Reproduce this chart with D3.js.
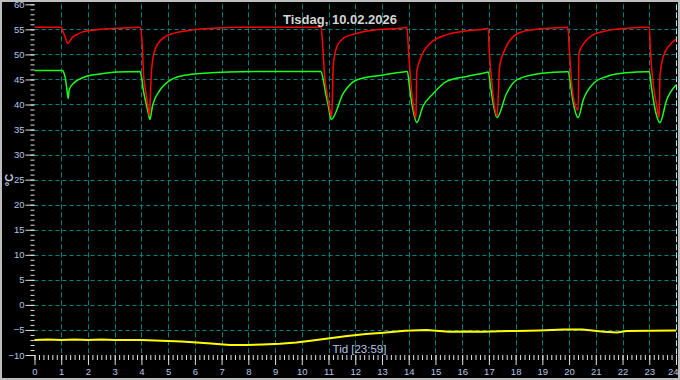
<!DOCTYPE html>
<html>
<head>
<meta charset="utf-8">
<script src="https://cdn.jsdelivr.net/npm/d3@7"></script>
<style>
    body { margin: 0; background: #000; }
    svg { display: block; }
</style>
</head>
<body>
<svg></svg>
<script>
// tid i timmar, temperatur i °C
const redSeries = [
    [0, 55.4], [1.0, 55.4], [1.05, 54.8], [1.15, 53.4], [1.25, 52.2], [1.4, 53.3], [1.6, 54.0],
    [1.8, 54.5], [2.45, 55.0], [3.1, 55.2], [3.95, 55.4],
    [4.02, 53.0], [4.08, 46.0], [4.15, 43.0], [4.25, 39.5], [4.3, 37.8], [4.33, 41.0], [4.36, 45.0],
    [4.42, 48.9], [4.55, 51.5], [4.8, 53.2], [5.2, 54.2], [5.7, 54.7], [6.3, 55.1], [7.0, 55.3],
    [7.7, 55.4], [10.72, 55.4],
    [10.78, 52.0], [10.85, 46.0], [10.95, 42.0], [11.05, 39.0], [11.12, 37.6], [11.18, 48.0],
    [11.31, 51.5], [11.55, 53.2], [12.05, 54.2], [12.8, 54.9], [13.67, 55.2], [13.93, 55.4],
    [14.0, 50.0], [14.07, 45.0], [14.17, 40.0], [14.27, 37.2], [14.3, 46.5], [14.42, 48.9],
    [14.8, 52.2], [15.4, 53.9], [16.2, 54.7], [16.9, 55.1], [16.97, 55.2],
    [17.02, 50.0], [17.1, 45.0], [17.2, 40.0], [17.31, 37.7], [17.4, 47.5], [17.6, 51.0],
    [17.9, 53.5], [18.3, 54.6], [18.9, 55.1], [19.5, 55.3], [19.95, 55.4],
    [20.02, 50.0], [20.1, 44.0], [20.22, 40.0], [20.34, 38.9], [20.37, 50.2], [20.55, 52.2],
    [20.9, 53.9], [21.4, 54.7], [22.15, 55.2], [22.9, 55.4], [23.0, 55.4],
    [23.05, 50.0], [23.15, 44.0], [23.27, 40.0], [23.37, 37.4], [23.4, 45.6], [23.52, 49.5],
    [23.77, 51.9], [24.0, 53.0]
];

const greenSeries = [
    [0, 46.8], [1.05, 46.8], [1.1, 46.3], [1.14, 45.6], [1.2, 43.6], [1.26, 41.2], [1.3, 43.0],
    [1.45, 44.2], [1.83, 45.4], [2.45, 46.1], [3.08, 46.5], [3.95, 46.6],
    [4.0, 45.6], [4.07, 42.9], [4.17, 40.3], [4.26, 38.2], [4.32, 37.0], [4.41, 39.6], [4.7, 42.9],
    [5.1, 44.9], [5.7, 45.9], [6.8, 46.4], [7.7, 46.55], [10.72, 46.6],
    [10.8, 45.0], [10.9, 42.0], [11.0, 39.5], [11.1, 37.0], [11.55, 42.2], [12.05, 44.9],
    [13.05, 45.9], [13.86, 46.55], [13.95, 46.6],
    [14.02, 44.0], [14.12, 40.0], [14.22, 37.5], [14.3, 36.4], [14.53, 39.6], [14.92, 42.2],
    [15.42, 44.6], [16.17, 45.6], [16.9, 46.4], [16.98, 46.5],
    [17.05, 44.0], [17.15, 40.5], [17.3, 37.4], [17.66, 42.2], [18.04, 44.9], [18.91, 46.2],
    [19.91, 46.55], [19.97, 46.55],
    [20.05, 44.0], [20.15, 40.5], [20.34, 37.4], [20.53, 40.9], [20.91, 44.2], [21.41, 45.6],
    [22.15, 46.35], [22.9, 46.55], [23.0, 46.55],
    [23.08, 43.5], [23.2, 39.5], [23.4, 36.4], [23.65, 40.9], [24.0, 43.9]
];

const yellowSeries = [
    [0, -7.0], [0.5, -6.9], [1.0, -7.0], [1.5, -6.9], [2.0, -7.0], [2.5, -6.9], [3.0, -7.0],
    [3.5, -7.0], [4.0, -7.0], [4.5, -7.1], [5.0, -7.2], [5.5, -7.3], [6.07, -7.5], [6.6, -7.7],
    [7.3, -8.0], [7.9, -8.0], [8.55, -7.9], [9.18, -7.75], [9.8, -7.5], [10.4, -7.1],
    [11.05, -6.65], [11.7, -6.2], [12.4, -5.8], [13.05, -5.55], [13.86, -5.15], [14.67, -5.0],
    [15.5, -5.35], [16.2, -5.3], [16.8, -5.35], [17.4, -5.25], [18.04, -5.2], [18.9, -5.1],
    [19.8, -4.9], [20.5, -4.9], [21.3, -5.35], [21.8, -5.5], [22.15, -5.2], [23.0, -5.15],
    [24.0, -5.1]
];

const hourTicks = d3.range(0, 25);
const tempTicks = d3.range(-10, 61, 5);
const titleText = 'Tisdag, 10.02.2026';
const xLabel = 'Tid [23:59]';
const yLabel = '°C';

const svg = d3.select('svg')
    .attr('width', 680)
    .attr('height', 380);

const margins = {top: 4.3, right: 4, bottom: 25, left: 34.5};
const width = 676 - margins.left;
const height = 355 - margins.top;

const x = d3.scaleLinear().domain([0, 24]).range([margins.left, margins.left + width]);
const y = d3.scaleLinear().domain([-10, 60]).range([margins.top + height, margins.top]);

svg.append('rect')
    .attr('width', 680).attr('height', 380)
    .attr('fill', '#000');

// grid
svg.append('g').selectAll('line')
    .data(hourTicks.filter(h => h > 0 && h < 24))
    .enter().append('line')
    .attr('x1', d => Math.round(x(d)) + 0.5).attr('x2', d => Math.round(x(d)) + 0.5)
    .attr('y1', y(60)).attr('y2', y(-10))
    .attr('stroke', '#008282')
    .attr('stroke-dasharray', '5,3');

svg.append('g').selectAll('line')
    .data(tempTicks.filter(t => t > -10 && t < 60))
    .enter().append('line')
    .attr('x1', x(0)).attr('x2', x(24))
    .attr('y1', d => Math.round(y(d)) + 0.5).attr('y2', d => Math.round(y(d)) + 0.5)
    .attr('stroke', '#008282')
    .attr('stroke-dasharray', '4,3');

svg.append('line')
    .attr('x1', Math.round(x(24)) + 0.5).attr('x2', Math.round(x(24)) + 0.5)
    .attr('y1', y(60)).attr('y2', y(-10))
    .attr('stroke', '#9ff4ff')
    .attr('stroke-dasharray', '6,2');

// axes
const yAxisMinor = svg.append('g')
    .attr('transform', `translate(${margins.left}, 0)`)
    .call(d3.axisLeft(y).tickValues(d3.range(-10, 61, 1)).tickSize(4).tickFormat(''));

const yAxisGroup = svg.append('g')
    .attr('transform', `translate(${margins.left}, 0)`)
    .call(d3.axisLeft(y).tickValues(tempTicks).tickSize(9).tickPadding(1));

const xAxisMinor = svg.append('g')
    .attr('transform', `translate(0, ${margins.top + height})`)
    .call(d3.axisBottom(x).tickValues(d3.range(0, 24.01, 1 / 6)).tickSize(5).tickFormat(''));

const xAxisGroup = svg.append('g')
    .attr('transform', `translate(0, ${margins.top + height})`)
    .call(d3.axisBottom(x).tickValues(hourTicks).tickSize(10).tickPadding(3));

svg.selectAll('.domain').remove();
svg.selectAll('.tick line').attr('stroke', '#e0e0e0');
svg.selectAll('.tick text')
    .attr('fill', '#b4c6e0')
    .attr('font-family', 'Liberation Sans, Arial, sans-serif')
    .attr('font-size', 9.5);

// last hour label sits against the frame
xAxisGroup.selectAll('.tick text')
    .filter(d => d === 24)
    .attr('text-anchor', 'end')
    .attr('x', 2);

// lines
const line = d3.line()
    .x(d => x(d[0]))
    .y(d => y(d[1]))
    .curve(d3.curveMonotoneX);

svg.append('path')
    .datum(yellowSeries)
    .attr('fill', 'none')
    .attr('stroke', '#ffff00')
    .attr('stroke-width', 2)
    .attr('d', d3.line().x(d => x(d[0])).y(d => y(d[1])));

svg.append('path')
    .datum(greenSeries)
    .attr('fill', 'none')
    .attr('stroke', '#1aff1a')
    .attr('stroke-width', 1.5)
    .attr('d', line);

svg.append('path')
    .datum(redSeries)
    .attr('fill', 'none')
    .attr('stroke', '#ff0000')
    .attr('stroke-width', 1.5)
    .attr('d', line);

// texts
svg.append('text')
    .text(titleText)
    .attr('x', 340).attr('y', 24)
    .attr('text-anchor', 'middle')
    .attr('font-family', 'Liberation Sans, Arial, sans-serif')
    .attr('font-weight', 'bold')
    .attr('font-size', 13)
    .attr('fill', '#d4d4d4');

svg.append('text')
    .text(xLabel)
    .attr('x', 359.5).attr('y', 353)
    .attr('text-anchor', 'middle')
    .attr('font-family', 'Liberation Sans, Arial, sans-serif')
    .attr('font-size', 11.5)
    .attr('fill', '#b4c6e0');

svg.append('text')
    .text(yLabel)
    .attr('transform', 'translate(13, 180) rotate(-90)')
    .attr('text-anchor', 'middle')
    .attr('font-family', 'Liberation Sans, Arial, sans-serif')
    .attr('font-weight', 'bold')
    .attr('font-size', 11)
    .attr('fill', '#c8d0e0');

// frame
svg.append('rect')
    .attr('x', 1).attr('y', 1)
    .attr('width', 678).attr('height', 378)
    .attr('fill', 'none')
    .attr('stroke', '#bdbdbd')
    .attr('stroke-width', 2);
</script>
</body>
</html>
